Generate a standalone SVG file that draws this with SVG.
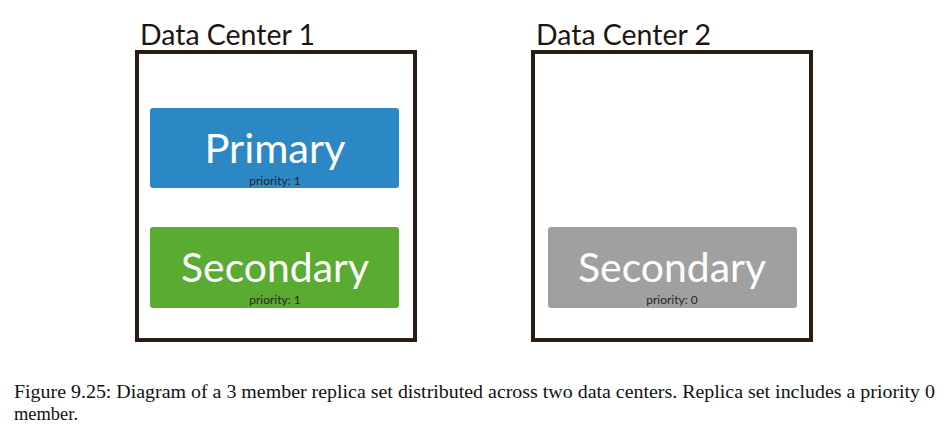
<svg xmlns="http://www.w3.org/2000/svg" width="951" height="433" viewBox="0 0 951 433">
<style>
.dc{fill:none;stroke:#2b1b15;stroke-width:4}
.title{font-family:Lato,"Open Sans",sans-serif;font-size:29px;fill:#1e1410}
.big{font-family:Lato,"Open Sans",sans-serif;font-size:41px;fill:#ffffff;text-anchor:middle}
.small{font-family:Lato,"Open Sans",sans-serif;font-size:12px;fill:#2a2420;text-anchor:middle}
.cap{font-family:"Liberation Serif",serif;font-size:18.5px;fill:#111}
</style>
<rect width="951" height="433" fill="#fff"/>
<g id="dc1">
<rect class="dc" x="137" y="52" width="278" height="288"/>
<text class="title" x="140" y="45" textLength="175" lengthAdjust="spacingAndGlyphs">Data Center 1</text>
</g>
<g id="dc2">
<rect class="dc" x="533" y="52" width="278" height="288"/>
<text class="title" x="536" y="45" textLength="175" lengthAdjust="spacingAndGlyphs">Data Center 2</text>
</g>
<g id="primary">
<rect x="150" y="108" width="249" height="80" rx="3" fill="#2b88c4"/>
<text class="big" x="275" y="163" textLength="141" lengthAdjust="spacingAndGlyphs">Primary</text>
<text class="small" x="275" y="185">priority: 1</text>
</g>
<g id="secondary1">
<rect x="150" y="227" width="249" height="81" rx="3" fill="#5aab31"/>
<text class="big" x="275" y="282" textLength="188" lengthAdjust="spacingAndGlyphs">Secondary</text>
<text class="small" x="275" y="304">priority: 1</text>
</g>
<g id="secondary2">
<rect x="548" y="227" width="249" height="81" rx="3" fill="#a0a0a0"/>
<text class="big" x="672" y="282" textLength="188" lengthAdjust="spacingAndGlyphs">Secondary</text>
<text class="small" x="672" y="304">priority: 0</text>
</g>
<g id="connectors"/>
<text class="cap" x="14" y="398" textLength="921" lengthAdjust="spacingAndGlyphs">Figure 9.25: Diagram of a 3 member replica set distributed across two data centers. Replica set includes a priority 0</text>
<text class="cap" x="14" y="420" textLength="64" lengthAdjust="spacingAndGlyphs">member.</text>
</svg>
